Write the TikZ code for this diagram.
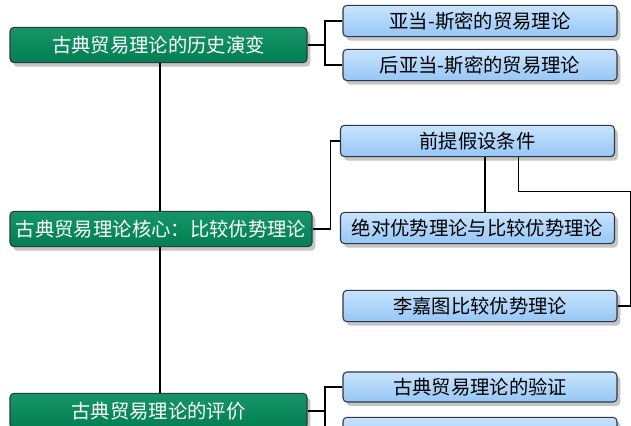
\documentclass[tikz,border=0pt]{standalone}
\usepackage{fontspec}
\newfontfamily\cjk{Noto Sans CJK SC}
\usepackage{xcolor}
\usepackage{tikz}
\usetikzlibrary{shadows}
\definecolor{gtop}{RGB}{22,150,104}
\definecolor{gbot}{RGB}{2,126,82}
\definecolor{btop}{RGB}{200,228,253}
\definecolor{bbot}{RGB}{150,198,245}
\definecolor{edgegray}{RGB}{45,55,70}
\tikzset{box/.style = {rounded corners=3pt, draw=edgegray, line width=0.8pt,
    drop shadow={shadow xshift=2.5pt, shadow yshift=-3pt, opacity=.45},
    font=\cjk\fontsize{14.5}{16}\selectfont, inner sep=1pt}}

\begin{document}
\begin{tikzpicture}[x=0.75pt, y=-0.75pt, thick,
    main node/.style={box, top color=gtop, bottom color=gbot, text=white,
        minimum width=222.75pt, minimum height=26.5pt},
    sub node/.style={box, top color=btop, bottom color=bbot, text=black,
        minimum width=205.5pt, minimum height=23.5pt}]
    \clip (0,0) rectangle (631,425);
    \fill[white] (0,0) rectangle (631,425);

    % main column
    \node[main node] (hist) at (158.5,45) {古典贸易理论的历史演变};
    \node[main node, minimum width=226.5pt] (core) at (161,229) {古典贸易理论核心：比较优势理论};
    \node[main node] (eval) at (158.5,411) {古典贸易理论的评价};

    % first group
    \node[sub node] (smith) at (480,21) {亚当-斯密的贸易理论};
    \node[sub node] (post) at (480,65) {后亚当-斯密的贸易理论};

    % second group
    \node[sub node] (premise) at (477.5,141) {前提假设条件};
    \node[sub node] (absol) at (477.5,228) {绝对优势理论与比较优势理论};
    \node[sub node] (ricardo) at (480,306) {李嘉图比较优势理论};

    % third group
    \node[sub node, minimum height=22.5pt] (verify) at (480,387) {古典贸易理论的验证};
    \node[sub node] (next) at (480,433) {};

    \coordinate (j1) at (325,45);
    \coordinate (j3) at (325,411);

    \path[draw=black, line width=0.9pt]
        (hist.south -| 160,0) edge (core.north -| 160,0)
        (core.south -| 160,0) edge (eval.north -| 160,0);

    \draw[line width=0.9pt] (hist.east) -- (j1);
    \draw[line width=0.9pt] (smith.west) -| (j1) |- (post.west);
    \draw[line width=0.9pt] (core.east) -- ++(18,0) |- (premise.west);
    \draw[line width=0.9pt] ([xshift=5.6pt]premise.south) -- ([xshift=5.6pt]absol.north);
    \draw[line width=0.9pt] ([xshift=31pt]premise.south) -- ++(0,34) -| ([xshift=9.75pt]ricardo.east) -- (ricardo.east);
    \draw[line width=0.9pt] (eval.east) -- (j3);
    \draw[line width=0.9pt] (verify.west) -| (j3) |- (next.west);
\end{tikzpicture}
\end{document}
